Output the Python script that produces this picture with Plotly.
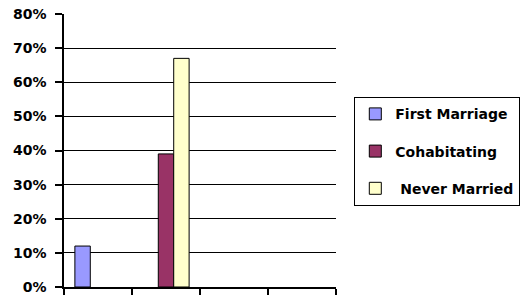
import plotly.graph_objects as go

categories = ["Group 1", "Group 2", "Group 3", "Group 4"]
first_marriage = [0.12, None, None, None]
cohabitating = [None, 0.39, None, None]
never_married = [None, 0.67, None, None]
y_ticks = [0, 0.1, 0.2, 0.3, 0.4, 0.5, 0.6, 0.7, 0.8]

FONT = "DejaVu Sans, Liberation Sans, Arial, sans-serif"

fig = go.Figure()
series = [
    ("First Marriage", first_marriage, "#9999ff"),
    ("Cohabitating", cohabitating, "#993366"),
    (" Never Married", never_married, "#ffffcc"),
]
for name, vals, col in series:
    fig.add_trace(go.Bar(
        x=categories, y=vals, name=name, legendgroup=name,
        marker=dict(color=col, line=dict(color="black", width=1)),
    ))

fig.update_layout(
    width=524, height=299,
    margin=dict(l=64, r=188, t=14, b=12, autoexpand=False),
    paper_bgcolor="white", plot_bgcolor="white",
    barmode="group", bargap=0.32, bargroupgap=0,
    font=dict(family=FONT, size=14, color="black", weight="bold"),
    showlegend=True,
    legend=dict(
        x=(354 - 64) / 272, xanchor="left", y=(287 - 97) / 273, yanchor="top",
        bordercolor="black", borderwidth=1.3,
        font=dict(family=FONT, size=14, color="black", weight="bold"),
        traceorder="grouped", tracegroupgap=16,
        itemclick=False, itemwidth=30,
    ),
    xaxis=dict(
        type="category", tickson="boundaries", ticks="outside", ticklen=6,
        tickcolor="black", tickwidth=1.5, showticklabels=False,
        showline=True, linecolor="black", linewidth=1.5, showgrid=False,
        zeroline=False, automargin=False,
    ),
    yaxis=dict(
        range=[0, 0.8], tickvals=y_ticks, tickformat=".0%",
        ticks="outside", ticklen=7, tickcolor="black", tickwidth=1.5,
        showline=True, linecolor="black", linewidth=1.5,
        showgrid=True, gridcolor="black", gridwidth=1.3, zeroline=False,
        ticklabelstandoff=6, automargin=False,
        tickfont=dict(family=FONT, size=14, color="black", weight="bold"),
    ),
)

fig.write_html(
    "out.html",
    config={"displayModeBar": False},
    post_script="document.body.style.margin='0';document.body.style.overflow='hidden';",
)
